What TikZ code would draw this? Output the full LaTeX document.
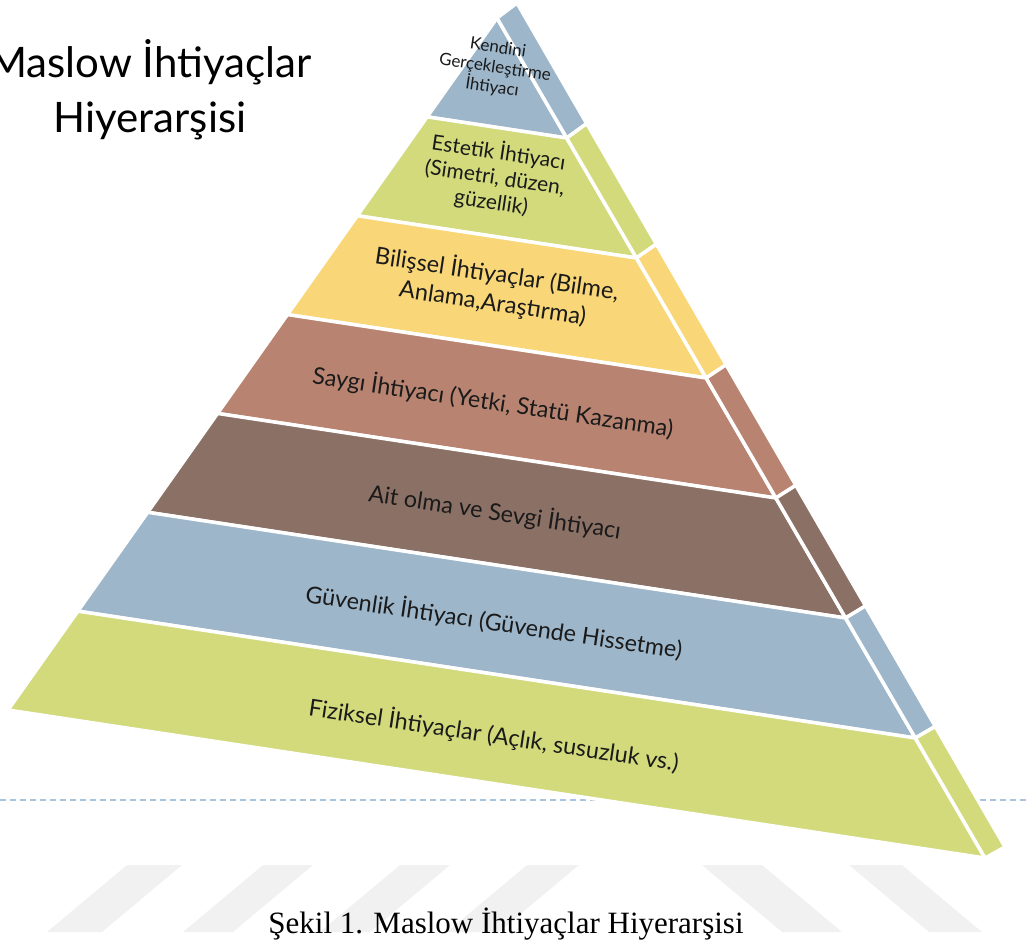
\documentclass[tikz,border=0pt]{standalone}
\usepackage{fontspec}
\setmainfont{Lato}
\newfontfamily\capfont{Liberation Serif}
\usetikzlibrary{calc}
\definecolor{pblue}{HTML}{9DB6CA}
\definecolor{pgreen}{HTML}{D2DA7C}
\definecolor{pyellow}{HTML}{F9D779}
\definecolor{psalmon}{HTML}{B88471}
\definecolor{pbrown}{HTML}{8B7066}
\definecolor{wmgray}{HTML}{F1F1F1}
\definecolor{dashblue}{HTML}{A9C3DD}
\definecolor{txt}{HTML}{1A1A1A}
\begin{document}
\begin{tikzpicture}[x=1pt,y=-1pt,
  face/.style={draw=white,line width=3.5pt,line join=round},
  wm/.style={fill=wmgray,draw=none},
  dashline/.style={draw=dashblue,line width=1.3pt,dash pattern=on 6pt off 4pt},
  lbl/.style={rotate=-8.5,align=center,text=txt,inner sep=0pt},
]
\useasboundingbox (0,0) rectangle (1029,943);
% watermark bands
\fill[wm] (127,865) -- (182,865) -- (102,932) -- (47,932) -- cycle;
\fill[wm] (263,865) -- (313,865) -- (233,932) -- (183,932) -- cycle;
\fill[wm] (400,865) -- (450,865) -- (370,932) -- (320,932) -- cycle;
\fill[wm] (527,865) -- (579,865) -- (499,932) -- (447,932) -- cycle;
\fill[wm] (702,865) -- (762,865) -- (842,932) -- (782,932) -- cycle;
\fill[wm] (849,865) -- (902,865) -- (982,932) -- (929,932) -- cycle;
% dashed line
\coordinate (dl) at (0,800);
\coordinate (dr) at (1029,800);
\draw[dashline] (dl) -- (dr);
% pyramid
\coordinate (A) at (497,18);
\coordinate (L) at (8,710);
\coordinate (R) at (985,858);
\coordinate (S) at (517,3);
\coordinate (SR) at (1005,847);
\foreach \k/\c in {0/pblue,1/pgreen,2/pyellow,3/psalmon,4/pbrown,5/pblue,6/pgreen}{
  \pgfmathsetmacro{\fa}{\k/7}
  \pgfmathsetmacro{\fb}{(\k+1)/7}
  \filldraw[face,fill=\c] ($(A)!\fa!(L)$) -- ($(A)!\fa!(R)$) -- ($(A)!\fb!(R)$) -- ($(A)!\fb!(L)$) -- cycle;
  \filldraw[face,fill=\c] ($(A)!\fa!(R)$) -- ($(S)!\fa!(SR)$) -- ($(S)!\fb!(SR)$) -- ($(A)!\fb!(R)$) -- cycle;
}
% labels
\node[lbl,font=\fontsize{17}{20}\selectfont] (t0) at (495,68) {Kendini\\Gerçekleştirme\\İhtiyacı};
\node[lbl,font=\fontsize{21}{25}\selectfont] (t1) at (495,177) {Estetik İhtiyacı\\(Simetri, düzen,\\güzellik)};
\node[lbl,font=\fontsize{23.5}{29}\selectfont] (t2) at (495,288) {Bilişsel İhtiyaçlar (Bilme,\\Anlama,Araştırma)};
\node[lbl,font=\fontsize{23.3}{28}\selectfont] (t3) at (493,402) {Saygı İhtiyacı (Yetki, Statü Kazanma)};
\node[lbl,font=\fontsize{23.3}{28}\selectfont] (t4) at (495,512) {Ait olma ve Sevgi İhtiyacı};
\node[lbl,font=\fontsize{23.3}{28}\selectfont] (t5) at (494,622) {Güvenlik İhtiyacı (Güvende Hissetme)};
\node[lbl,font=\fontsize{23.3}{28}\selectfont] (t6) at (494,735) {Fiziksel İhtiyaçlar (Açlık, susuzluk vs.)};
% title
\node[anchor=base,inner sep=0pt,font=\fontsize{42}{55}\selectfont] (title1) at (150,77) {Maslow İhtiyaçlar};
\node[anchor=base,inner sep=0pt,font=\fontsize{42}{55}\selectfont] (title2) at (150,132) {Hiyerarşisi};
% caption
\node[anchor=base,inner sep=0pt,font=\capfont\fontsize{31}{36}\selectfont] (cap) at (506,933) {Şekil 1. Maslow İhtiyaçlar Hiyerarşisi};
\end{tikzpicture}
\end{document}
